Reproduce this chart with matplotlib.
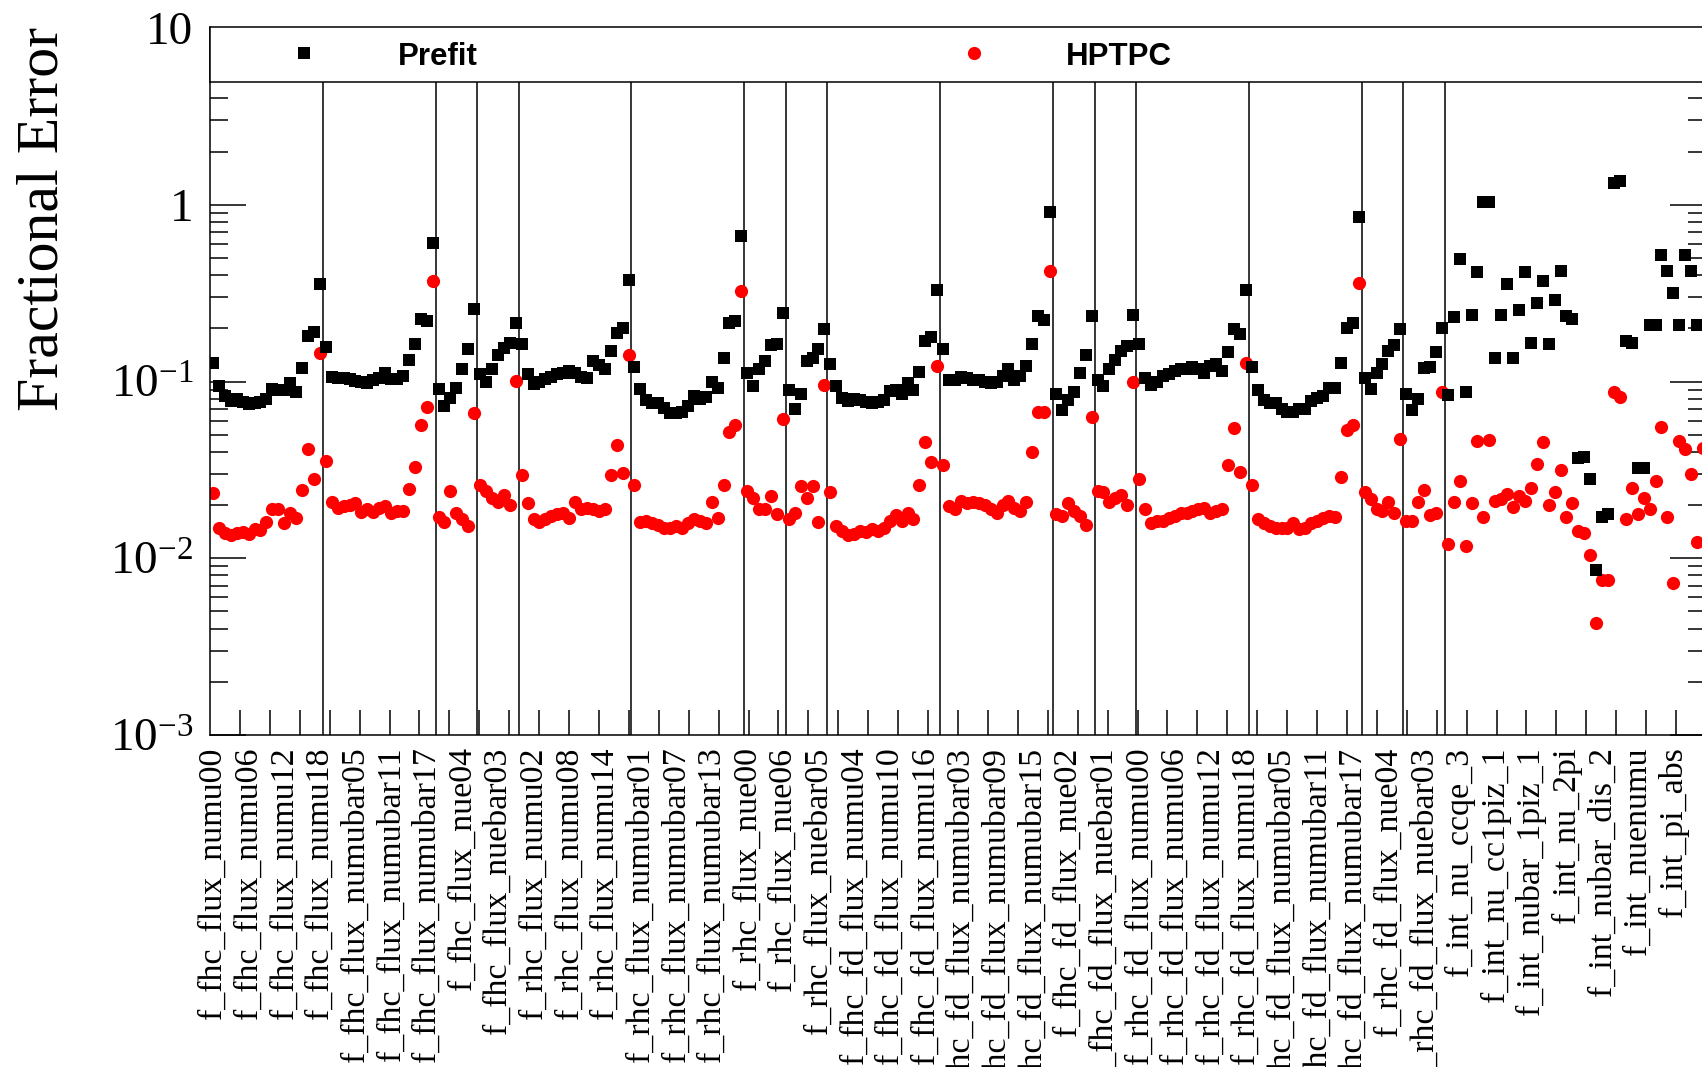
# %%
# Imports
import matplotlib

matplotlib.use("Agg")
import matplotlib.pyplot as plt
import numpy as np
from matplotlib.ticker import FixedLocator, LogLocator, NullFormatter

plt.rcParams["font.family"] = "Liberation Serif"
plt.rcParams["mathtext.fontset"] = "custom"
plt.rcParams["mathtext.rm"] = "Liberation Serif"
plt.rcParams["mathtext.it"] = "Liberation Serif:italic"

# %%
# Parameter blocks: fhc numu / numubar / nue / nuebar, then rhc, for ND and FD flux,
# followed by the interaction parameters
block_sizes = [19, 19, 7, 7, 19, 19, 7, 7, 19, 19, 7, 7, 19, 19, 7, 7, 44]

# Prefit fractional errors
prefit_nd_flux = [
    0.128, 0.094, 0.083, 0.078, 0.080, 0.077, 0.075, 0.076, 0.077, 0.080,
    0.091, 0.090, 0.090, 0.098, 0.087, 0.119, 0.180, 0.190, 0.354,
    0.157, 0.106, 0.105, 0.104, 0.103, 0.101, 0.0995, 0.098, 0.102, 0.105,
    0.111, 0.103, 0.103, 0.108, 0.133, 0.164, 0.227, 0.219, 0.604,
    0.091, 0.0725, 0.081, 0.092, 0.117, 0.152, 0.258,
    0.110, 0.099, 0.117, 0.141, 0.154, 0.166, 0.215,
    0.164, 0.110, 0.097, 0.100, 0.103, 0.106, 0.110, 0.112, 0.114, 0.111,
    0.106, 0.105, 0.130, 0.124, 0.118, 0.148, 0.187, 0.200, 0.374,
    0.121, 0.091, 0.079, 0.0757, 0.0757, 0.071, 0.0665, 0.066, 0.067, 0.0725,
    0.0833, 0.0798, 0.0819, 0.100, 0.092, 0.136, 0.215, 0.219, 0.664,
    0.111, 0.094, 0.118, 0.130, 0.160, 0.164, 0.243,
    0.0893, 0.070, 0.0855, 0.130, 0.136, 0.152, 0.197,
]
prefit_fd_flux = [
    0.126, 0.094, 0.081, 0.078, 0.080, 0.079, 0.0764, 0.0757, 0.0765, 0.079,
    0.088, 0.090, 0.0855, 0.098, 0.089, 0.113, 0.169, 0.178, 0.329,
    0.152, 0.1026, 0.1026, 0.106, 0.105, 0.1026, 0.1026, 0.0995, 0.098, 0.0988,
    0.107, 0.117, 0.1026, 0.108, 0.123, 0.164, 0.234, 0.222, 0.908,
    0.0855, 0.0688, 0.079, 0.087, 0.111, 0.142, 0.234,
    0.1026, 0.094, 0.117, 0.1315, 0.148, 0.158, 0.237,
    0.162, 0.105, 0.095, 0.100, 0.107, 0.110, 0.114, 0.117, 0.117, 0.121,
    0.117, 0.111, 0.122, 0.125, 0.115, 0.1465, 0.197, 0.186, 0.329,
    0.121, 0.089, 0.079, 0.0757, 0.0752, 0.070, 0.067, 0.067, 0.0695, 0.070,
    0.0774, 0.081, 0.0826, 0.092, 0.092, 0.128, 0.201, 0.215, 0.855,
    0.105, 0.091, 0.111, 0.126, 0.148, 0.160, 0.197,
    0.0855, 0.0688, 0.0798, 0.119, 0.121, 0.1465, 0.1995,
]
prefit_xsec = [
    0.0837, 0.232, 0.494, 0.0875, 0.239, 0.418, 1.035, 1.035, 0.136, 0.239,
    0.354, 0.135, 0.255, 0.415, 0.166, 0.277, 0.370, 0.163, 0.291, 0.421,
    0.234, 0.226, 0.037, 0.0375, 0.0281, 0.00855, 0.0171, 0.0179, 1.33, 1.37,
    0.169, 0.166, 0.0325, 0.0325, 0.210, 0.210, 0.523, 0.421, 0.315, 0.210,
    0.523, 0.421, 0.210, 0.210,
]

# HPTPC fractional errors
hptpc_nd_flux = [
    0.0234, 0.0149, 0.0139, 0.01345, 0.0139, 0.0141, 0.0137, 0.0147, 0.0144, 0.016,
    0.0189, 0.0189, 0.0159, 0.0181, 0.0169, 0.0243, 0.0416, 0.0281, 0.145,
    0.0357, 0.0207, 0.0193, 0.0197, 0.0201, 0.0206, 0.0182, 0.0189, 0.0182, 0.0193,
    0.0198, 0.0181, 0.0185, 0.0185, 0.0247, 0.0327, 0.0564, 0.0719, 0.370,
    0.0172, 0.016, 0.0239, 0.0181, 0.0166, 0.0153, 0.0665,
    0.0258, 0.0239, 0.022, 0.0207, 0.0229, 0.0199, 0.1004,
    0.0294, 0.0206, 0.0166, 0.016, 0.0166, 0.0173, 0.0177, 0.0181, 0.0169, 0.0207,
    0.0189, 0.0193, 0.019, 0.0186, 0.019, 0.0294, 0.044, 0.0303, 0.142,
    0.0258, 0.016, 0.0162, 0.0159, 0.0155, 0.0149, 0.0149, 0.0153, 0.0149, 0.0158,
    0.0166, 0.0162, 0.0159, 0.0207, 0.0169, 0.0258, 0.0516, 0.0564, 0.324,
    0.0239, 0.022, 0.019, 0.019, 0.0226, 0.0177, 0.061,
    0.0166, 0.0181, 0.0256, 0.022, 0.0256, 0.016, 0.096,
]
hptpc_fd_flux = [
    0.0236, 0.0152, 0.0142, 0.0136, 0.0138, 0.01435, 0.014, 0.0147, 0.0142, 0.0148,
    0.0162, 0.0175, 0.0162, 0.0181, 0.0166, 0.0258, 0.0453, 0.0349, 0.122,
    0.0339, 0.0197, 0.0189, 0.021, 0.0206, 0.0207, 0.0205, 0.0199, 0.0189, 0.0181,
    0.0199, 0.021, 0.0193, 0.0185, 0.0207, 0.0398, 0.067, 0.067, 0.421,
    0.0177, 0.0173, 0.0206, 0.0185, 0.0173, 0.0155, 0.063,
    0.0239, 0.0236, 0.0207, 0.022, 0.0229, 0.0199, 0.099,
    0.0281, 0.019, 0.0159, 0.0162, 0.0162, 0.0169, 0.0173, 0.0181, 0.0181, 0.0185,
    0.0189, 0.0193, 0.0181, 0.0185, 0.0189, 0.0339, 0.0547, 0.0307, 0.1276,
    0.0261, 0.0166, 0.0159, 0.0152, 0.0149, 0.0149, 0.0149, 0.0159, 0.0147, 0.0149,
    0.0159, 0.0162, 0.0169, 0.0173, 0.0172, 0.0289, 0.0535, 0.0571, 0.362,
    0.0236, 0.0215, 0.0189, 0.0185, 0.0207, 0.0181, 0.0474,
    0.0162, 0.0162, 0.0207, 0.0243, 0.0175, 0.018, 0.087,
]
hptpc_xsec = [
    0.0121, 0.0207, 0.0273, 0.0118, 0.0205, 0.0459, 0.0171, 0.0464, 0.021, 0.0215,
    0.0232, 0.0195, 0.0225, 0.021, 0.025, 0.034, 0.0453, 0.0199, 0.0236, 0.0315,
    0.0171, 0.0206, 0.0142, 0.0139, 0.0105, 0.0043, 0.0075, 0.0075, 0.087, 0.082,
    0.0166, 0.025, 0.0177, 0.022, 0.019, 0.0273, 0.0554, 0.0171, 0.0072, 0.0459,
    0.0416, 0.0301, 0.0123, 0.042,
]

# Bin labels shown on the axis (every 6th parameter)
label_step = 6
bin_labels = [
    "f_fhc_flux_numu00", "f_fhc_flux_numu06", "f_fhc_flux_numu12",
    "f_fhc_flux_numu18", "f_fhc_flux_numubar05", "f_fhc_flux_numubar11",
    "f_fhc_flux_numubar17", "f_fhc_flux_nue04", "f_fhc_flux_nuebar03",
    "f_rhc_flux_numu02", "f_rhc_flux_numu08", "f_rhc_flux_numu14",
    "f_rhc_flux_numubar01", "f_rhc_flux_numubar07", "f_rhc_flux_numubar13",
    "f_rhc_flux_nue00", "f_rhc_flux_nue06", "f_rhc_flux_nuebar05",
    "f_fhc_fd_flux_numu04", "f_fhc_fd_flux_numu10", "f_fhc_fd_flux_numu16",
    "f_fhc_fd_flux_numubar03", "f_fhc_fd_flux_numubar09", "f_fhc_fd_flux_numubar15",
    "f_fhc_fd_flux_nue02", "f_fhc_fd_flux_nuebar01", "f_rhc_fd_flux_numu00",
    "f_rhc_fd_flux_numu06", "f_rhc_fd_flux_numu12", "f_rhc_fd_flux_numu18",
    "f_rhc_fd_flux_numubar05", "f_rhc_fd_flux_numubar11", "f_rhc_fd_flux_numubar17",
    "f_rhc_fd_flux_nue04", "f_rhc_fd_flux_nuebar03", "f_int_nu_ccqe_3",
    "f_int_nu_cc1piz_1", "f_int_nubar_1piz_1", "f_int_nu_2pi",
    "f_int_nubar_dis_2", "f_int_nuenumu", "f_int_pi_abs",
]

# %%
# Assemble
prefit = np.array(prefit_nd_flux + prefit_fd_flux + prefit_xsec)
hptpc = np.array(hptpc_nd_flux + hptpc_fd_flux + hptpc_xsec)
n_bins = sum(block_sizes)
centers = np.arange(n_bins) + 0.5
boundaries = np.cumsum(block_sizes)[:-1]
label_pos = centers[::label_step][: len(bin_labels)]

# %%
# Plot
W, H = 1702, 1067
fig = plt.figure(figsize=(W / 100, H / 100), dpi=100)
ax = fig.add_axes([210 / W, 1 - 735 / H, 1496 / W, 707 / H])

ax.plot(centers, hptpc, "o", color="red", ms=9.5, mew=0, label="HPTPC")
ax.plot(centers, prefit, "s", color="black", ms=8, mew=0, label="Prefit")
for b in boundaries:
    ax.axvline(b, color="black", lw=1.1, zorder=1)

ax.set_yscale("log")
ax.set_ylim(1e-3, 10)
ax.set_xlim(0, n_bins)

ax.yaxis.set_major_locator(FixedLocator([1e-3, 1e-2, 1e-1, 1, 10]))
ax.set_yticklabels(["10$^{-3}$", "10$^{-2}$", "10$^{-1}$", "1", "10"])
ax.yaxis.set_minor_locator(LogLocator(base=10, subs=np.arange(2, 10), numticks=20))
ax.yaxis.set_minor_formatter(NullFormatter())
ax.tick_params(axis="y", which="major", direction="in", length=26, width=1.1,
               left=True, right=True, labelsize=34, pad=12)
ax.tick_params(axis="y", which="minor", direction="in", length=13, width=1.1,
               left=True, right=True)

ax.set_xticks(label_pos)
ax.set_xticklabels(bin_labels, rotation=90, fontsize=24.5)
ax.set_xticks(np.linspace(0, n_bins, 51)[1:-1], minor=True)
ax.tick_params(axis="x", which="major", length=0, pad=9)
ax.tick_params(axis="x", which="minor", direction="in", length=18, width=1.1,
               bottom=True, top=False)
for spine in ax.spines.values():
    spine.set_linewidth(1.1)

fig.text(16 / W, 1 - 27 / H, "Fractional Error", rotation=90, ha="left", va="top",
         fontsize=43)

# Legend box across the top of the frame
leg = fig.add_axes([210 / W, 1 - 82 / H, 1496 / W, 55 / H], zorder=5)
leg.set_xlim(0, 1)
leg.set_ylim(0, 1)
leg.set_xticks([])
leg.set_yticks([])
for spine in leg.spines.values():
    spine.set_linewidth(1.1)
leg.plot(0.0628, 0.52, "s", color="black", ms=8, mew=0)
leg.text(0.1257, 0.45, "Prefit", family="Liberation Sans", weight="bold",
         fontsize=22.5, va="center", ha="left")
leg.plot(0.5107, 0.52, "o", color="red", ms=9.5, mew=0)
leg.text(0.5722, 0.45, "HPTPC", family="Liberation Sans", weight="bold",
         fontsize=22.5, va="center", ha="left")

fig.savefig("out.png", dpi=100)
